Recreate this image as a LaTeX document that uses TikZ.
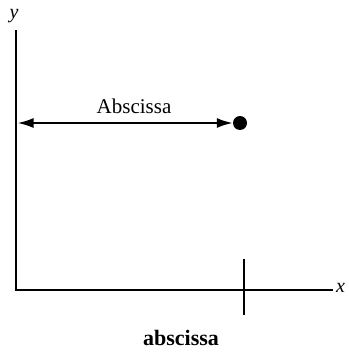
\documentclass[tikz,border=0pt]{standalone}
\usepackage{fontspec}
\setmainfont{Liberation Serif}
\usetikzlibrary{arrows.meta}
\begin{document}
\begin{tikzpicture}[x=1pt,y=-1pt,
  axis/.style={line width=2.8pt},
  lbl/.style={inner sep=0pt,font=\fontsize{21}{23}\selectfont},
  arr/.style={line width=2pt,{Latex[length=16pt,width=10pt]}-{Latex[length=16pt,width=10pt]}}]
\useasboundingbox (0,0) rectangle (348,356);
\clip (0,0) rectangle (348,356);
\coordinate (ytop) at (16,30);
\coordinate (orig) at (16,290);
\coordinate (xend) at (333,290);
\draw[axis] (ytop) -- (orig) -- (xend);
\node[lbl,font=\fontsize{20}{22}\selectfont\itshape] (ylab) at (14,16) {y};
\node[lbl,font=\fontsize{20}{22}\selectfont\itshape,anchor=west] (xlab) at (336,288) {x};
\coordinate (tt) at (244,259);
\coordinate (tb) at (244,315);
\draw[axis] (tt) -- (tb);
\coordinate (al) at (17.5,123);
\node[circle,fill=black,inner sep=0pt,minimum size=14pt] (dot) at (240,123) {};
\draw[arr] (al) -- (dot.west);
\node[lbl,anchor=base] (abs) at (134,113) {Abscissa};
\node[lbl,font=\fontsize{22}{24}\selectfont\bfseries,anchor=base] (cap) at (181,345) {abscissa};
\end{tikzpicture}
\end{document}
